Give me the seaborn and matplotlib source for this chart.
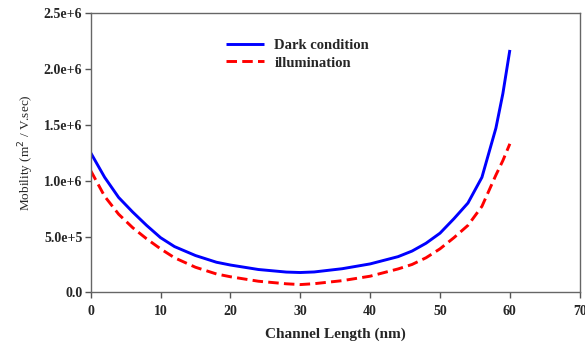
import pandas as pd
import numpy as np
import matplotlib
matplotlib.use('Agg')
import matplotlib.pyplot as plt
import seaborn as sns

# Channel length (nm) and mobility values
channel_len = [0, 2, 4, 6, 8, 10, 12, 15, 18, 20, 24, 28, 30, 32, 36, 40,
               44, 46, 48, 50, 52, 54, 56, 58, 59, 60]
mob_dark = [1.25e6, 1.03e6, 0.85e6, 0.72e6, 0.60e6, 0.49e6, 0.41e6, 0.33e6,
            0.27e6, 0.245e6, 0.205e6, 0.182e6, 0.178e6, 0.183e6, 0.212e6,
            0.255e6, 0.32e6, 0.37e6, 0.44e6, 0.53e6, 0.66e6, 0.80e6, 1.03e6,
            1.47e6, 1.78e6, 2.17e6]
mob_illum = [1.09e6, 0.86e6, 0.70e6, 0.58e6, 0.48e6, 0.39e6, 0.31e6, 0.225e6,
             0.165e6, 0.14e6, 0.10e6, 0.077e6, 0.07e6, 0.078e6, 0.105e6,
             0.145e6, 0.21e6, 0.25e6, 0.31e6, 0.39e6, 0.49e6, 0.60e6, 0.77e6,
             1.05e6, 1.18e6, 1.33e6]
series_names = ['Dark condition', 'illumination']
ytick_vals = [0, 0.5e6, 1.0e6, 1.5e6, 2.0e6, 2.5e6]
ytick_labels = ['0.0', '5.0e+5', '1.0e+6', '1.5e+6', '2.0e+6', '2.5e+6']
xtick_vals = [0, 10, 20, 30, 40, 50, 60, 70]

df = pd.DataFrame({
    'Channel Length': channel_len * 2,
    'Mobility': mob_dark + mob_illum,
    'Condition': [series_names[0]] * len(channel_len) + [series_names[1]] * len(channel_len),
})

sns.set_style('white')
plt.rcParams['font.family'] = ['Liberation Serif', 'DejaVu Serif']

fig = plt.figure(figsize=(5.85, 3.44), dpi=100)
ax = fig.add_axes([0.155, 0.150, 0.836, 0.812])

sns.lineplot(data=df, x='Channel Length', y='Mobility', hue='Condition',
             style='Condition', palette=['#0000ff', '#ff0000'],
             dashes=[(1, 0), (3.6, 1.8)], linewidth=2.1, ax=ax)

ax.set_xlim(0, 70)
ax.set_ylim(0, 2.5e6)
ax.set_xticks(xtick_vals)
ax.set_xticklabels([str(v) for v in xtick_vals], fontweight='bold', fontsize=10)
ax.set_yticks(ytick_vals)
ax.set_yticklabels(ytick_labels, fontweight='bold', fontsize=10)
ax.tick_params(axis='both', which='both', direction='out', length=4, width=1,
               color='#555555', bottom=True, left=True)
ax.tick_params(axis='y', pad=2)
ax.tick_params(axis='x', pad=5)

for sp in ax.spines.values():
    sp.set_color('#666666')
    sp.set_linewidth(1.0)

ax.set_xlabel('Channel Length (nm)', fontweight='bold', fontsize=11, labelpad=7)
ax.set_ylabel('Mobility (m$^2$ / V.sec)', fontsize=9.5, labelpad=6)

leg = ax.legend(loc='upper left', bbox_to_anchor=(0.25, 0.955), frameon=False,
                prop={'weight': 'bold', 'size': 10.5}, handlelength=2.6,
                handletextpad=0.7, labelspacing=0.3)
leg.set_title(None)

fig.savefig('out.png', dpi=100)
